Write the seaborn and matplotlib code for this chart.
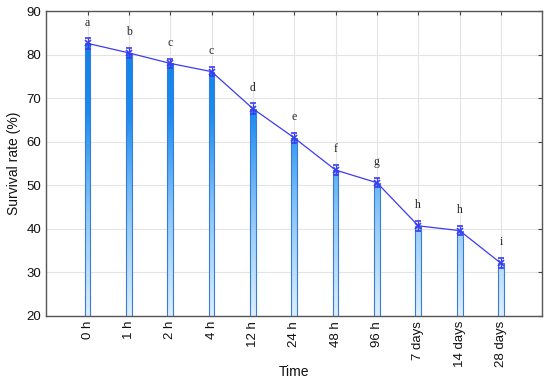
import numpy as np
import pandas as pd
import matplotlib
matplotlib.use('Agg')
import matplotlib.pyplot as plt
from matplotlib.colors import LinearSegmentedColormap
import seaborn as sns

# data
times = ['0 h', '1 h', '2 h', '4 h', '12 h', '24 h', '48 h', '96 h', '7 days', '14 days', '28 days']
survival = [82.6, 80.4, 78.0, 76.1, 67.6, 60.9, 53.5, 50.6, 40.7, 39.6, 32.1]
errors = [1.2, 1.2, 1.1, 1.1, 1.2, 1.1, 1.2, 1.1, 1.2, 1.1, 1.1]
letters = ['a', 'b', 'c', 'c', 'd', 'e', 'f', 'g', 'h', 'h', 'i']

df = pd.DataFrame({'time': times, 'survival': survival})

sns.set_style('white')
plt.rcParams['font.family'] = ['Liberation Sans', 'DejaVu Sans']

fig, ax = plt.subplots(figsize=(5.5, 3.83), dpi=100)
fig.subplots_adjust(left=0.084, right=0.986, top=0.971, bottom=0.175)

sns.barplot(data=df, x='time', y='survival', color='#1a8cf0', width=0.14,
            edgecolor='#3a7ad8', linewidth=0.8, ax=ax, zorder=2)

ax.set_xlim(-1, len(times))
ax.set_ylim(20, 90)

# vertical gradient fill, dark at top and pale at bottom
cmap = LinearSegmentedColormap.from_list('grad', ['#dcefff', '#8cc8f8', '#1a8cf0', '#0a7ee8'])
grad = np.linspace(0, 1, 256).reshape(-1, 1)
for p in ax.patches:
    im = ax.imshow(grad, cmap=cmap, aspect='auto', origin='lower',
                   extent=(-1, len(times), 20, 90), zorder=2.5, vmin=0, vmax=1)
    im.set_clip_path(p)
    p.set_facecolor('none')
    p.set_zorder(3)
ax.set_xlim(-1, len(times))
ax.set_ylim(20, 90)

x = np.arange(len(times))
ax.errorbar(x, survival, yerr=errors, color='#3c3cf0', lw=0.9, marker='x', ms=4,
            mew=1.2, capsize=2.5, elinewidth=0.9, zorder=4)

for xi, yi, lab in zip(x, survival, letters):
    ax.text(xi, yi + 3.4, lab, ha='center', va='bottom', fontsize=8.5,
            family=['Liberation Serif', 'DejaVu Serif'], zorder=5)

ax.set_yticks(range(20, 91, 10))
ax.grid(True, color='#e4e4e4', lw=0.8, zorder=0)
ax.set_axisbelow(True)
ax.tick_params(axis='both', which='both', direction='in', length=3, labelsize=9.5,
               top=True, right=True, color='#444444', labelcolor='#111111')
ax.tick_params(axis='x', rotation=90)
for s in ax.spines.values():
    s.set_color('#555555')
    s.set_linewidth(1.0)

ax.set_xlabel('Time', fontsize=10, color='#111111')
ax.set_ylabel('Survival rate (%)', fontsize=10, color='#111111')
ax.xaxis.set_label_coords(0.5, -0.16)

fig.savefig('out.png', dpi=100)
